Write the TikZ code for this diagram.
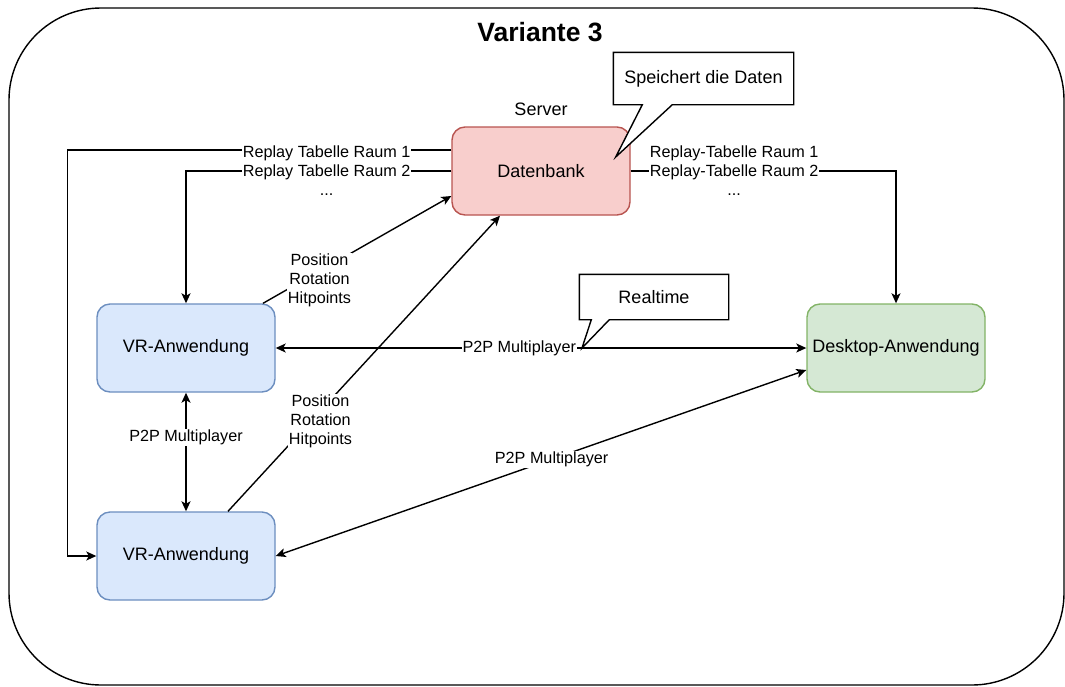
\documentclass[tikz,border=0pt]{standalone}
\usepackage{fontspec}
\setmainfont{Liberation Sans}
\usepackage{tikz}
\usetikzlibrary{positioning,arrows.meta,calc}
\definecolor{vrfill}{HTML}{DAE8FC}
\definecolor{vrline}{HTML}{6C8EBF}
\definecolor{dbfill}{HTML}{F8CECC}
\definecolor{dbline}{HTML}{B85450}
\definecolor{dkfill}{HTML}{D5E8D4}
\definecolor{dkline}{HTML}{82B366}

\begin{document}
\begin{tikzpicture}[x=1pt, y=-1pt, line width=1.4pt,
  app/.style={draw=vrline, fill=vrfill, rounded corners=13pt, minimum width=178pt, minimum height=88pt, font=\fontsize{18}{21}\selectfont},
  dbs/.style={app, draw=dbline, fill=dbfill},
  dsk/.style={app, draw=dkline, fill=dkfill},
  lbl/.style={fill=white, inner xsep=1pt, inner ysep=1pt, align=center, font=\fontsize{16.2}{19}\selectfont},
  note/.style={inner sep=0pt, font=\fontsize{18}{21}\selectfont},
  arr/.style={-{Stealth[length=10pt,width=9pt,inset=2.5pt]}},
  biarr/.style={{Stealth[length=10pt,width=9pt,inset=2.5pt]}-{Stealth[length=10pt,width=9pt,inset=2.5pt]}}]
\useasboundingbox (0,0) rectangle (1065,686);
% frame and title
\draw[rounded corners=92pt] (9,8) rectangle (1064,685);
\node[font=\bfseries\fontsize{26.5}{30}\selectfont] (title) at (540,32) {Variante 3};
% boxes
\node[dbs] (db) at (541,171) {Datenbank};
\node[note, above=10pt of db] (srv) {Server};
\node[app] (vr1) at (186,348) {VR-Anwendung};
\node[app] (vr2) at (186,556) {VR-Anwendung};
\node[dsk] (desk) at (896,348) {Desktop-Anwendung};
% replay tables
\draw[arr] ([yshift=21pt]db.west) -| ([xshift=-29pt]vr2.west) -- (vr2.west);
\draw[arr] (db.west) -| (vr1.north)
  node[lbl, pos=0.235] {Replay Tabelle Raum 1\\Replay Tabelle Raum 2\\...};
\draw[arr] (db.east) -| (desk.north)
  node[lbl, pos=0.195] {Replay-Tabelle Raum 1\\Replay-Tabelle Raum 2\\...};
% state updates to the server
\draw[arr] ([xshift=77pt]vr1.north) -- ([yshift=-25pt]db.west)
  node[lbl, pos=0.3, yshift=-9pt] {Position\\Rotation\\Hitpoints};
\draw[arr] ([xshift=42pt]vr2.north) -- ([xshift=-41pt]db.south)
  node[lbl, pos=0.34, yshift=-11pt] {Position\\Rotation\\Hitpoints};
% p2p
\draw[biarr] (vr1.east) -- (desk.west)
  node[lbl, pos=0.459] (p2p) {P2P Multiplayer};
\draw[biarr] (vr1.south) -- (vr2.north)
  node[lbl, pos=0.38] {P2P Multiplayer};
\draw[biarr] (vr2.east) -- ([yshift=-22pt]desk.west)
  node[lbl, pos=0.52] {P2P Multiplayer};
% callouts
\node[note, minimum width=179pt, minimum height=51pt] (spk) at (703.5,78.5) {Speichert die Daten};
\draw[fill=white] (spk.north west) -- (spk.north east) -- (spk.south east)
  -- ([xshift=59pt]spk.south west) -- ([xshift=-15pt,yshift=14pt]db.east)
  -- ([xshift=29pt]spk.south west) -- (spk.south west) -- cycle;
\node[note] at (spk) {Speichert die Daten};
\coordinate (rttip) at (582,348);
\node[note, minimum width=148pt, minimum height=44pt] (rt) at (654,297) {Realtime};
\draw[fill=white] (rt.north west) -- (rt.north east) -- (rt.south east)
  -- ([xshift=30pt]rt.south west) -- (rttip)
  -- ([xshift=12pt]rt.south west) -- (rt.south west) -- cycle;
\node[note] at (rt) {Realtime};
\end{tikzpicture}
\end{document}
